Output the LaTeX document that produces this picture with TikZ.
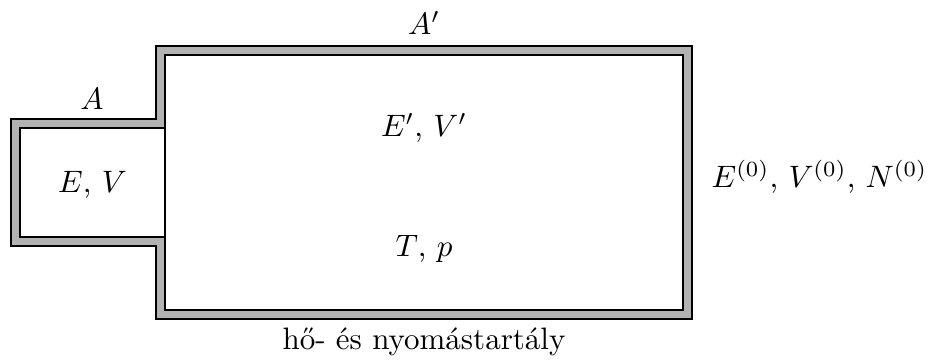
\documentclass[tikz,border=0pt]{standalone}
\begin{document}
\begin{tikzpicture}[x=0.3226pt,y=-0.3226pt,
  wall/.style={fill=black!30,draw=black,line width=0.55pt},
  room/.style={fill=white,draw=black,line width=0.55pt},
  lbl/.style={inner sep=0pt,anchor=base}]
\useasboundingbox (0,0) rectangle (931,360);
\path[wall] (11,119) -- (156,119) -- (156,46) -- (692,46) -- (692,319) -- (156,319) -- (156,246) -- (11,246) -- cycle;
\path[room] (20,128) rectangle (165,237);
\path[room] (165,55) rectangle (683,310);
\node[lbl] (Ap) at (424,35) {$A'$};
\node[lbl] (A) at (92,110) {$A$};
\node[lbl] (EV) at (92.5,193) {$E$, $V$};
\node[lbl] (EVp) at (424,137) {$E'$, $V'$};
\node[lbl] (Tp) at (424,257) {$T$, $p$};
\node[lbl,anchor=base west] (E0) at (711,188) {$E^{(0)}$, $V^{(0)}$, $N^{(0)}$};
\node[lbl] (tank) at (424,350) {hő- és nyomástartály};
\end{tikzpicture}
\end{document}
